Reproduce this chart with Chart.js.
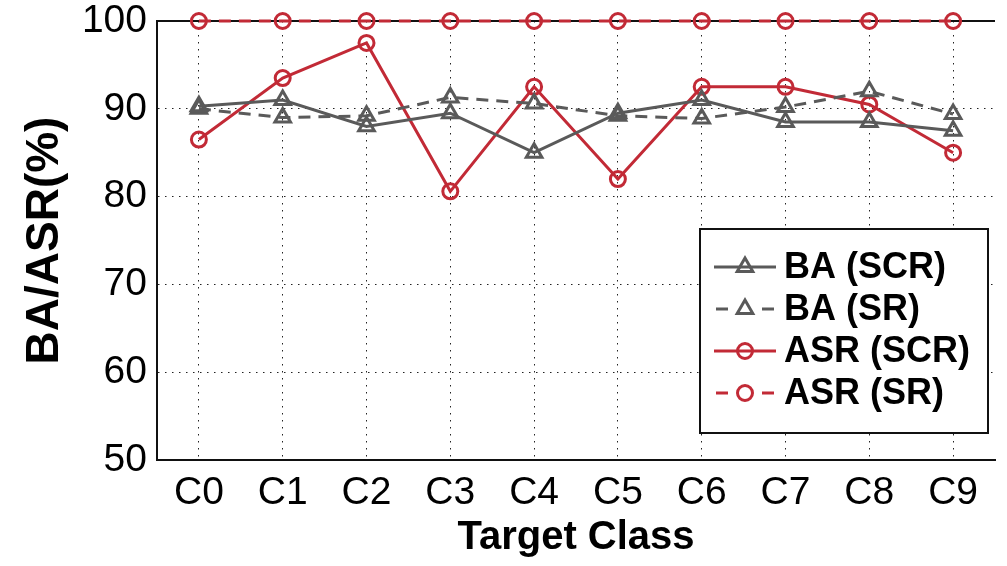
<!DOCTYPE html>
<html>
<head>
<meta charset="utf-8">
<script src="https://cdn.jsdelivr.net/npm/chart.js@4.4.1/dist/chart.umd.min.js"></script>
<style>
  html, body { margin: 0; padding: 0; background: #fff; }
  #wrap { width: 1007px; height: 566px; position: relative; }
</style>
</head>
<body>
<div id="wrap"><canvas id="chart"></canvas></div>
<script>
const categories = ['C0', 'C1', 'C2', 'C3', 'C4', 'C5', 'C6', 'C7', 'C8', 'C9'];
const baScr = [90.3, 91.0, 88.0, 89.5, 85.0, 89.5, 91.0, 88.5, 88.5, 87.5];
const baSr = [90.0, 89.0, 89.2, 91.3, 90.6, 89.2, 88.9, 90.2, 92.0, 89.4];
const asrScr = [86.5, 93.5, 97.5, 80.6, 92.5, 82.0, 92.5, 92.5, 90.5, 85.0];
const asrSr = [100, 100, 100, 100, 100, 100, 100, 100, 100, 100];
const yTicks = [50, 60, 70, 80, 90, 100];

const GRAY = '#5a5a5a';
const RED = '#c22a36';
const FONT = "'Liberation Sans', Arial, Helvetica, sans-serif";

// legend drawn inside the plot, with line + marker samples like the original
const boxLegend = {
  id: 'boxLegend',
  afterDraw(chart) {
    const ctx = chart.ctx;
    const x0 = 700, y0 = 229, w = 288, h = 204;
    ctx.save();
    ctx.fillStyle = '#fff';
    ctx.fillRect(x0, y0, w, h);
    ctx.strokeStyle = '#111';
    ctx.lineWidth = 2;
    ctx.strokeRect(x0, y0, w, h);
    chart.data.datasets.forEach((ds, i) => {
      const cy = 267 + i * 42;
      ctx.strokeStyle = ds.borderColor;
      ctx.lineWidth = ds.borderWidth;
      ctx.setLineDash(ds.borderDash || []);
      ctx.beginPath();
      if (ds.borderDash) {
        ctx.moveTo(716, cy); ctx.lineTo(728, cy);
        ctx.moveTo(762, cy); ctx.lineTo(774, cy);
      } else {
        ctx.moveTo(714, cy); ctx.lineTo(776, cy);
      }
      ctx.stroke();
      ctx.setLineDash([]);
      ctx.lineWidth = ds.pointBorderWidth;
      ctx.strokeStyle = ds.pointBorderColor;
      ctx.fillStyle = 'rgba(0,0,0,0)';
      Chart.helpers.drawPoint(ctx, {
        pointStyle: ds.pointStyle,
        radius: ds.pointRadius,
        borderWidth: ds.pointBorderWidth
      }, 745, cy);
      ctx.fillStyle = '#000';
      ctx.font = 'bold 36px ' + FONT;
      ctx.textBaseline = 'middle';
      ctx.fillText(ds.label, 784, cy + 1);
    });
    ctx.restore();
  }
};

// solid top edge of the axes box
const topFrame = {
  id: 'topFrame',
  beforeDatasetsDraw(chart) {
    const { ctx, chartArea } = chart;
    ctx.save();
    ctx.strokeStyle = '#111';
    ctx.lineWidth = 2;
    ctx.beginPath();
    ctx.moveTo(chartArea.left, chartArea.top);
    ctx.lineTo(chartArea.right, chartArea.top);
    ctx.stroke();
    ctx.restore();
  }
};

const lineSet = (label, data, color, dashed, style, radius) => ({
  label: label,
  data: data,
  borderColor: color,
  borderWidth: 3,
  borderDash: dashed ? [12, 8] : undefined,
  pointStyle: style,
  pointRadius: radius,
  pointBorderWidth: 3,
  pointBorderColor: color,
  pointBackgroundColor: 'rgba(0,0,0,0)',
  tension: 0,
  clip: false
});

new Chart(document.getElementById('chart'), {
  type: 'line',
  data: {
    labels: categories,
    datasets: [
      lineSet('BA (SCR)', baScr, GRAY, false, 'triangle', 9),
      lineSet('BA (SR)', baSr, GRAY, true, 'triangle', 9),
      lineSet('ASR (SCR)', asrScr, RED, false, 'circle', 7.5),
      lineSet('ASR (SR)', asrSr, RED, true, 'circle', 7.5)
    ]
  },
  options: {
    responsive: true,
    maintainAspectRatio: false,
    animation: false,
    layout: { padding: { top: 21, right: 0, left: 0, bottom: 0 } },
    plugins: {
      legend: { display: false },
      tooltip: { enabled: false }
    },
    scales: {
      x: {
        offset: true,
        grid: { offset: false, color: '#222', lineWidth: 1, drawTicks: false },
        border: { display: true, color: '#111', width: 2, dash: [1.5, 5.5] },
        ticks: { color: '#000', padding: 10, maxRotation: 0, font: { family: FONT, size: 39 } },
        title: {
          display: true,
          text: 'Target Class',
          color: '#000',
          padding: { top: 0, bottom: 4 },
          font: { family: FONT, size: 40, weight: 'bold' }
        },
        afterFit(scale) {
          scale.height = 106;
          scale.paddingLeft = 0;
          scale.paddingRight = 0;
        }
      },
      y: {
        min: 50,
        max: 100,
        afterBuildTicks(scale) {
          scale.ticks = yTicks.map(v => ({ value: v }));
        },
        grid: { color: '#222', lineWidth: 1, drawTicks: false },
        border: { display: true, color: '#111', width: 2, dash: [1.5, 5.5] },
        ticks: { color: '#000', padding: 10, font: { family: FONT, size: 39 } },
        title: {
          display: true,
          text: 'BA/ASR(%)',
          color: '#000',
          padding: { top: 18, bottom: 0 },
          font: { family: FONT, size: 46, weight: 'bold' }
        },
        afterFit(scale) {
          scale.width = 157;
          scale.paddingTop = 0;
          scale.paddingBottom = 0;
        }
      }
    }
  },
  plugins: [topFrame, boxLegend]
});
</script>
</body>
</html>
